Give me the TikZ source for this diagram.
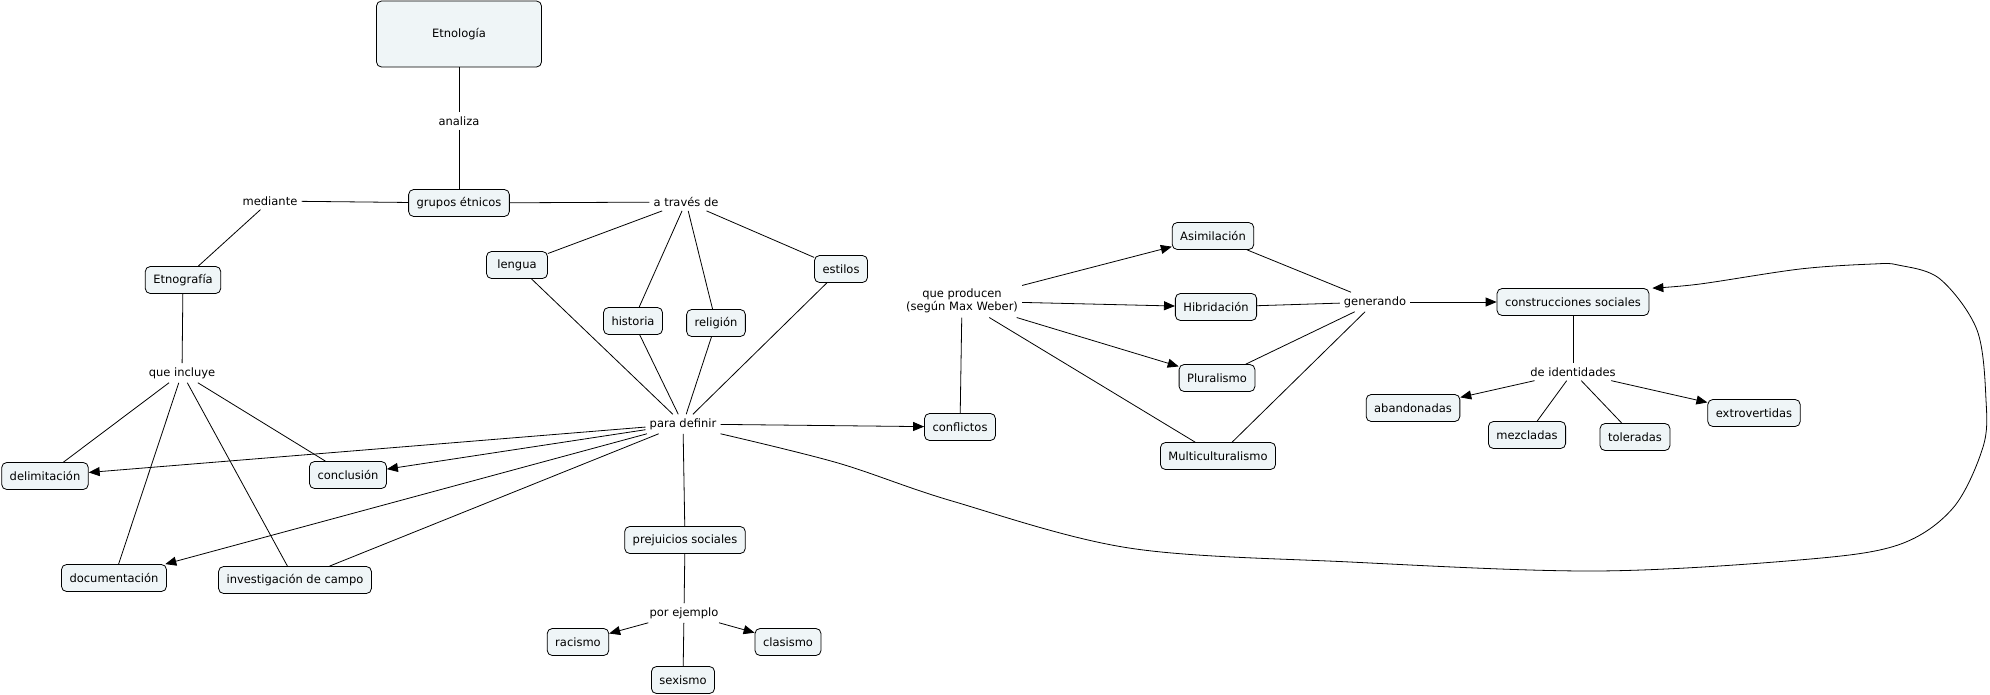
\documentclass[tikz,border=0pt]{standalone}
\usepackage{fontspec}
\setmainfont{DejaVu Sans}
\usetikzlibrary{arrows.meta}
\definecolor{boxfill}{RGB}{239,245,247}
\begin{document}
\begin{tikzpicture}[x=1pt,y=-1pt,
  concept/.style={draw, rounded corners=5pt, fill=boxfill, minimum height=27pt, inner xsep=8pt, inner ysep=3pt, font=\fontsize{11.5}{13}\selectfont, line width=0.8pt},
  phrase/.style={inner sep=4pt, font=\fontsize{11.5}{13.5}\selectfont, align=center},
  conn/.style={line width=0.8pt},
  arr/.style={conn, -{Triangle[length=11pt,width=9pt]}}]
\useasboundingbox (0,0) rectangle (1990,694);

\node[concept, minimum width=165pt, minimum height=66pt] (etn) at (459,34) {Etnología};
\node[phrase] (analiza) at (459,121) {analiza};
\node[concept] (grupos) at (459,203) {grupos étnicos};
\node[phrase] (mediante) at (270,201) {mediante};
\node[phrase] (atraves) at (686,202) {a través de};
\node[concept] (etnog) at (183,280) {Etnografía};
\node[concept, minimum width=61pt] (lengua) at (517,265) {lengua};
\node[concept] (historia) at (633,321) {historia};
\node[concept] (religion) at (716,323) {religión};
\node[concept] (estilos) at (841,269) {estilos};
\node[phrase] (pd) at (683,424) {para definir};
\node[phrase] (qi) at (182,373) {que incluye};
\node[concept] (delim) at (45,476) {delimitación};
\node[concept] (concl) at (348,475) {conclusión};
\node[concept] (doc) at (114,578) {documentación};
\node[concept] (inv) at (295,580) {investigación de campo};
\node[concept] (prej) at (685,540) {prejuicios sociales};
\node[phrase] (pe) at (684,613) {por ejemplo};
\node[concept] (rac) at (578,642) {racismo};
\node[concept] (clas) at (788,642) {clasismo};
\node[concept] (sex) at (683,680) {sexismo};
\node[concept] (confl) at (960,427) {conflictos};
\node[phrase] (qp) at (962,301) {que producen\\(según Max Weber)};
\node[concept] (asim) at (1213,236) {Asimilación};
\node[concept] (hib) at (1216,307) {Hibridación};
\node[concept] (plur) at (1217,378) {Pluralismo};
\node[concept] (multi) at (1218,456) {Multiculturalismo};
\node[phrase] (gen) at (1375,302) {generando};
\node[concept] (cs) at (1573,302) {construcciones sociales};
\node[phrase] (di) at (1573,372) {de identidades};
\node[concept] (aban) at (1413,408) {abandonadas};
\node[concept] (mez) at (1527,435) {mezcladas};
\node[concept] (tol) at (1635,437) {toleradas};
\node[concept] (extro) at (1754,413) {extrovertidas};

% lines
\draw[conn] (etn) -- (analiza);
\draw[conn] (analiza) -- (grupos);
\draw[conn] (grupos) -- (mediante);
\draw[conn] (mediante) -- (etnog);
\draw[conn] (grupos) -- (atraves);
\draw[conn] (atraves) -- (lengua);
\draw[conn] (atraves) -- (historia);
\draw[conn] (atraves) -- (religion);
\draw[conn] (atraves) -- (estilos);
\draw[conn] (lengua) -- (pd);
\draw[conn] (historia) -- (pd);
\draw[conn] (religion) -- (pd);
\draw[conn] (estilos) -- (pd);
\draw[conn] (etnog) -- (qi);
\draw[conn] (qi) -- (delim);
\draw[conn] (qi) -- (doc);
\draw[conn] (qi) -- (inv);
\draw[conn] (qi) -- (concl);
\draw[arr] (pd) -- (delim);
\draw[arr] (pd) -- (concl);
\draw[arr] (pd) -- (doc);
\draw[conn] (pd) -- (inv);
\draw[arr] (pd) -- (confl);
\draw[conn] (pd) -- (prej);
\draw[conn] (prej) -- (pe);
\draw[arr] (pe) -- (rac);
\draw[arr] (pe) -- (clas);
\draw[conn] (pe) -- (sex);
\draw[conn] (confl) -- (qp);
\draw[arr] (qp) -- (asim);
\draw[arr] (qp) -- (hib);
\draw[arr] (qp) -- (plur);
\draw[conn] (qp) -- (multi);
\draw[conn] (asim) -- (gen);
\draw[conn] (hib) -- (gen);
\draw[conn] (plur) -- (gen);
\draw[conn] (multi) -- (gen);
\draw[arr] (gen) -- (cs);
\draw[conn] (cs) -- (di);
\draw[arr] (di) -- (aban);
\draw[conn] (di) -- (mez);
\draw[conn] (di) -- (tol);
\draw[arr] (di) -- (extro);

% loop
\draw[arr] plot[smooth, tension=0.55] coordinates {(pd.south east) (838,463) (952,501) (1129,548) (1350,562) (1595,571) (1799,560) (1898,545) (1953,508) (1983,447) (1986,400) (1977,330) (1940,279) (1898,265) (1873,264) (1800,269) (1700,284) ([xshift=3pt]cs.north east)};
\end{tikzpicture}
\end{document}
